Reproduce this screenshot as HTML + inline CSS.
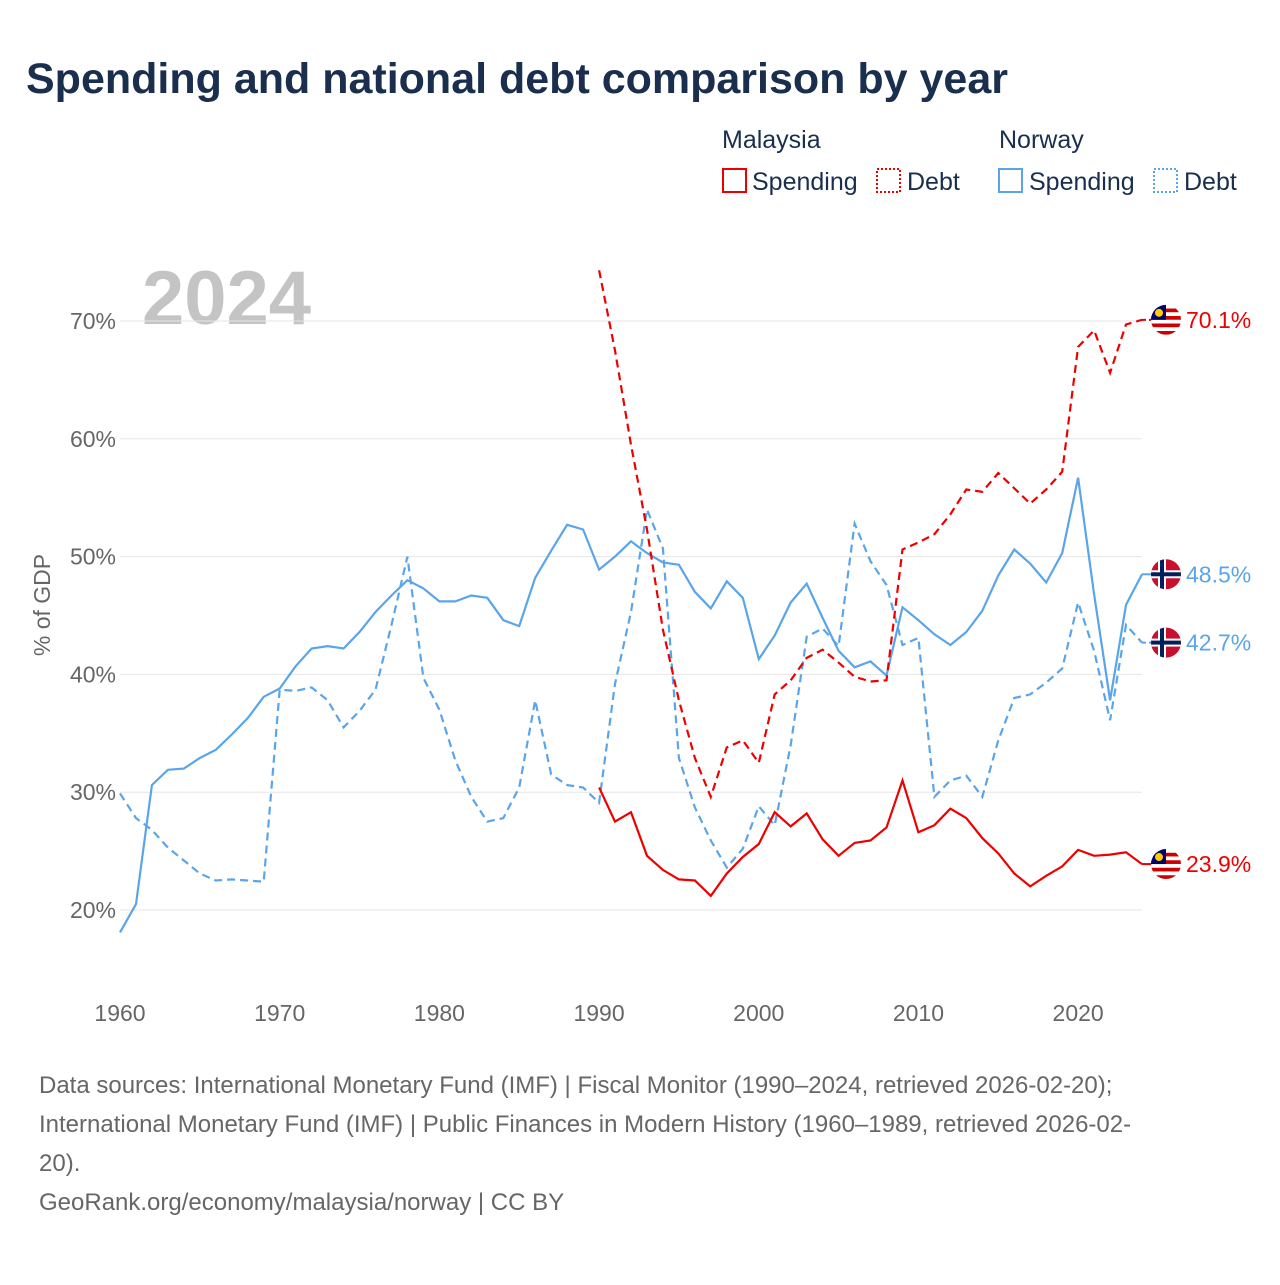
<!DOCTYPE html>
<html><head><meta charset="utf-8"><style>
body{margin:0;background:#fff;font-family:"Liberation Sans",sans-serif;}
svg text{font-family:"Liberation Sans",sans-serif;}
</style></head><body>
<svg id="chart" width="1280" height="1280" viewBox="0 0 1280 1280">
<defs id="defs"></defs>
<text x="26" y="93" font-size="43" font-weight="bold" fill="#1a2e4e">Spending and national debt comparison by year</text>
<g font-size="25" fill="#1a2e4e">
<text x="722" y="148" fill="#1a2e4e">Malaysia</text>
<text x="999" y="148" fill="#1a2e4e">Norway</text>
<rect x="723" y="169" width="23" height="23" fill="none" stroke="#e00" stroke-width="2"/>
<text x="752" y="190" fill="#1a2e4e">Spending</text>
<rect x="877" y="169" width="23" height="23" fill="none" stroke="#e00" stroke-width="2" stroke-dasharray="2,2"/>
<text x="907" y="190" fill="#1a2e4e">Debt</text>
<rect x="999" y="169" width="23" height="23" fill="none" stroke="#5aa5ea" stroke-width="2"/>
<text x="1029" y="190" fill="#1a2e4e">Spending</text>
<rect x="1154" y="169" width="23" height="23" fill="none" stroke="#5aa5ea" stroke-width="2" stroke-dasharray="2,2"/>
<text x="1184" y="190" fill="#1a2e4e">Debt</text>
</g>
<text x="142" y="324" font-size="76" font-weight="bold" fill="#c4c4c4">2024</text>
<text transform="translate(50,605) rotate(-90)" text-anchor="middle" font-size="23" fill="#666">% of GDP</text>
<g id="grid"></g><g id="series"></g><g id="ends"></g>
<g font-size="24" fill="#666">
<text x="39" y="1093" fill="#666">Data sources: International Monetary Fund (IMF) | Fiscal Monitor (1990–2024, retrieved 2026-02-20);</text>
<text x="39" y="1132" fill="#666">International Monetary Fund (IMF) | Public Finances in Modern History (1960–1989, retrieved 2026-02-</text>
<text x="39" y="1171" fill="#666">20).</text>
<text x="39" y="1210" fill="#666">GeoRank.org/economy/malaysia/norway | CC BY</text>
</g>
</svg>
<script>
const yTicks=[20,30,40,50,60,70];
const xTicks=[1960,1970,1980,1990,2000,2010,2020];
const norSpend=[18.1,20.5,30.6,31.9,32.0,32.9,33.6,34.9,36.3,38.1,38.8,40.7,42.2,42.4,42.2,43.6,45.3,46.7,48.0,47.3,46.2,46.2,46.7,46.5,44.6,44.1,48.2,50.5,52.7,52.3,48.9,50.0,51.3,50.3,49.5,49.3,47.0,45.6,47.9,46.5,41.3,43.3,46.1,47.7,44.8,42.0,40.6,41.1,39.9,45.7,44.6,43.4,42.5,43.6,45.4,48.4,50.6,49.4,47.8,50.3,56.7,46.8,37.8,45.9,48.5];
const norDebt=[29.9,27.8,26.8,25.3,24.2,23.1,22.5,22.6,22.5,22.4,38.7,38.6,38.9,37.8,35.5,36.9,38.7,44.2,50.0,39.7,37.0,32.7,29.6,27.5,27.8,30.4,37.8,31.5,30.6,30.4,29.1,39.2,45.3,54.0,50.7,32.9,28.7,25.9,23.6,25.2,28.8,27.2,34.0,43.2,43.9,42.4,52.8,49.6,47.6,42.5,43.1,29.6,31.0,31.4,29.6,34.4,38.0,38.3,39.3,40.5,46.1,42.0,36.1,44.2,42.7];
const mysSpend=[30.4,27.5,28.3,24.6,23.4,22.6,22.5,21.2,23.1,24.5,25.6,28.3,27.1,28.2,26.0,24.6,25.7,25.9,27.0,31.0,26.6,27.2,28.6,27.8,26.1,24.8,23.1,22.0,22.9,23.7,25.1,24.6,24.7,24.9,23.9];
const mysDebt=[74.3,67.5,59.5,52.3,43.8,37.8,32.9,29.6,33.8,34.4,32.5,38.3,39.5,41.4,42.1,41.0,39.8,39.4,39.5,50.6,51.2,51.9,53.6,55.7,55.5,57.1,55.8,54.5,55.7,57.2,67.8,69.2,65.6,69.7,70.1];
const NS="http://www.w3.org/2000/svg";
const xS=y=>120+(y-1960)*(1142-120)/64;
const yS=v=>910-(v-20)*11.78;
function mk(t,a,p){const e=document.createElementNS(NS,t);for(const k in a)e.setAttribute(k,a[k]);p.appendChild(e);return e;}
const grid=document.getElementById('grid');
yTicks.forEach(v=>{
 const l=mk('line',{x1:120,x2:1142,y1:yS(v),y2:yS(v),stroke:'#e6e6e6','stroke-width':1},grid);
 
 
 const t=mk('text',{x:116,y:yS(v)+8,'text-anchor':'end','font-size':23,fill:'#666'},grid);
 t.textContent=v+'%';
 
 
});
xTicks.forEach(v=>{
 const t=mk('text',{x:xS(v),y:1021,'text-anchor':'middle','font-size':23,fill:'#666'},grid);
 t.textContent=v;
 
 
});
const ser=document.getElementById('series');
function line(arr,start,color,dash,name){
 const d=arr.map((v,i)=>(i?'L':'M')+xS(start+i).toFixed(1)+','+yS(v).toFixed(1)).join('');
 const p=mk('path',{d:d,fill:'none',stroke:color,'stroke-width':2.2,'stroke-dasharray':dash},ser);
 
 
}
line(norSpend,1960,'#5aa5ea','none','norway-spending-line');
line(norDebt,1960,'#5aa5ea','8,5','norway-debt-line');
line(mysSpend,1990,'#e00','none','malaysia-spending-line');
line(mysDebt,1990,'#e00','8,5','malaysia-debt-line');
const ends=document.getElementById('ends');
const defs=document.getElementById('defs');
let cid=0;
function endLab(v,color,flag,name,dash){
 const y=yS(v);
 mk('line',{x1:1142,x2:1152,y1:y,y2:y,stroke:color,'stroke-width':2,'stroke-dasharray':dash},ends);
 const id='fc'+(cid++);
 const cp=mk('clipPath',{id:id},defs);
 mk('circle',{cx:1166,cy:y,r:15},cp);
 const g=mk('g',{'clip-path':'url(#'+id+')'},ends);
 
 
 mk('rect',{x:1150,y:y-16,width:32,height:32,fill:flag==='my'?'#fff':'#c8102e'},g);
 if(flag==='my'){
  for(let i=0;i<4;i++)mk('rect',{x:1150,y:y-15+i*7.5+3.7,width:32,height:3.7,fill:'#cc0001'},g);
  mk('rect',{x:1150,y:y-16,width:16,height:16,fill:'#010066'},g);
  mk('circle',{cx:1159,cy:y-7,r:4,fill:'#fc0'},g);
 }else{
  mk('rect',{x:1150,y:y-4,width:32,height:8,fill:'#fff'},g);
  mk('rect',{x:1158,y:y-16,width:8,height:32,fill:'#fff'},g);
  mk('rect',{x:1150,y:y-2,width:32,height:4,fill:'#00205b'},g);
  mk('rect',{x:1160,y:y-16,width:4,height:32,fill:'#00205b'},g);
 }
 const t=mk('text',{x:1186,y:y+8,'font-size':23,fill:color},ends);
 t.textContent=v.toFixed(1)+'%';
 
 
}
endLab(mysDebt[mysDebt.length-1],'#e00','my','malaysia-debt-end','4,3');
endLab(norSpend[norSpend.length-1],'#5aa5ea','no','norway-spending-end','none');
endLab(norDebt[norDebt.length-1],'#5aa5ea','no','norway-debt-end','4,3');
endLab(mysSpend[mysSpend.length-1],'#e00','my','malaysia-spending-end','none');
</script>
</body></html>
